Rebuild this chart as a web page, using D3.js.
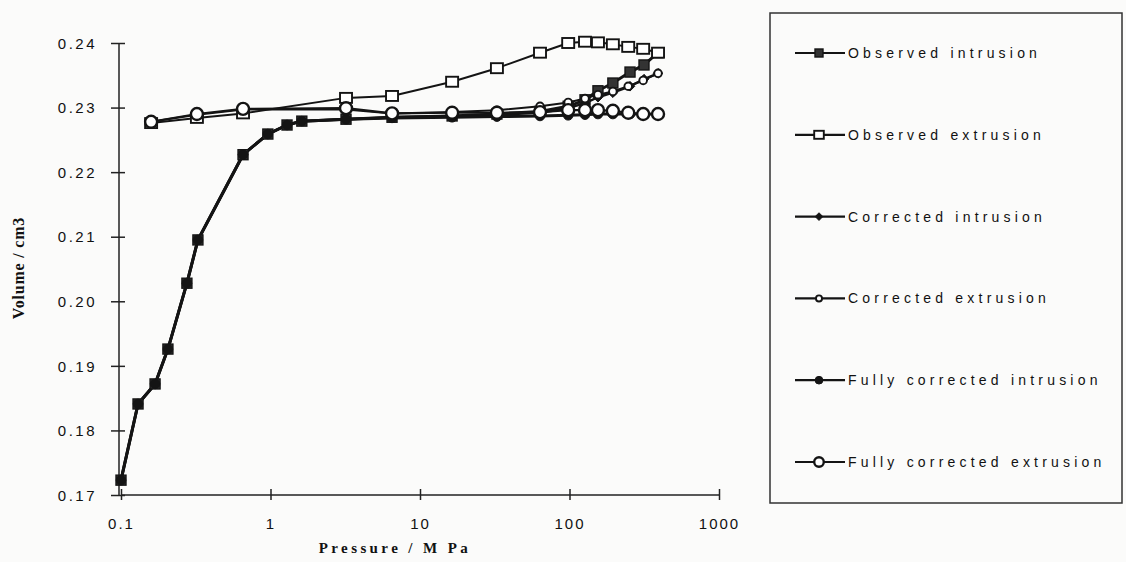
<!DOCTYPE html>
<html><head><meta charset="utf-8">
<script src="https://cdn.jsdelivr.net/npm/d3@7"></script>
<style>
html,body{margin:0;padding:0;background:#fbfbfa;}
svg{display:block;}
</style></head>
<body>
<svg id="chart" width="1126" height="562"></svg>
<script>
// ---- data ----
const intrusionPressure = [0.1, 0.13, 0.169, 0.206, 0.276, 0.327, 0.655, 0.96, 1.29, 1.62, 3.2, 6.5, 16.4, 32.7, 63.5, 98, 127, 155, 195, 254, 315, 391];
const observedIntrusion = [0.1723, 0.1841, 0.1872, 0.1926, 0.2028, 0.2095, 0.2227, 0.2259, 0.2273, 0.2279, 0.2282, 0.2285, 0.2287, 0.2290, 0.2294, 0.2302, 0.2312, 0.2326, 0.2338, 0.2355, 0.2366, 0.2385];
const correctedIntrusion = [0.1723, 0.1841, 0.1872, 0.1926, 0.2028, 0.2095, 0.2227, 0.2259, 0.2273, 0.2279, 0.2282, 0.2285, 0.2287, 0.2289, 0.2292, 0.2299, 0.2307, 0.2316, 0.2323, 0.2333, 0.2344, 0.2353];
const fullyCorrectedIntrusion = [0.1723, 0.1841, 0.1872, 0.1926, 0.2028, 0.2095, 0.2227, 0.2259, 0.2273, 0.2279, 0.2282, 0.2284, 0.2285, 0.2286, 0.2287, 0.2288, 0.2289, 0.2290, 0.2290, 0.2290, 0.2290, 0.2290];

const extrusionPressure = [391, 311, 247, 195, 155, 127, 98, 63.5, 32.7, 16.4, 6.5, 3.2, 0.655, 0.322, 0.159];
const observedExtrusion = [0.2385, 0.2391, 0.2394, 0.2398, 0.2401, 0.2402, 0.2400, 0.2385, 0.2361, 0.2340, 0.2318, 0.2315, 0.2291, 0.2284, 0.2276];
const correctedExtrusion = [0.2353, 0.2342, 0.2333, 0.2325, 0.2320, 0.2314, 0.2308, 0.2302, 0.2296, 0.2293, 0.2291, 0.2297, 0.2297, 0.2289, 0.2278];
const fullyCorrectedExtrusion = [0.2290, 0.2290, 0.2292, 0.2295, 0.2296, 0.2296, 0.2296, 0.2293, 0.2292, 0.2292, 0.2291, 0.2299, 0.2298, 0.2290, 0.2278];

const seriesNames = ["Observed intrusion", "Observed extrusion", "Corrected intrusion", "Corrected extrusion", "Fully corrected intrusion", "Fully corrected extrusion"];
const xTickValues = [0.1, 1, 10, 100, 1000];
const xTickLabels = ["0.1", "1", "10", "100", "1000"];
const yTickValues = [0.17, 0.18, 0.19, 0.20, 0.21, 0.22, 0.23, 0.24];
const yTickLabels = ["0.17", "0.18", "0.19", "0.20", "0.21", "0.22", "0.23", "0.24"];
const xTitle = "Pressure / M Pa";
const yTitle = "Volume / cm3";

// ---- build ----
const svg = d3.select("#chart");
const x = d3.scaleLog().domain([0.1, 1000]).range([121, 719]);
const y = d3.scaleLinear().domain([0.17, 0.24]).range([495, 43]);
const ink = "#141414";

const series = [
  {name: seriesNames[0], p: intrusionPressure, v: observedIntrusion, marker: "fsquare", lw: 3},
  {name: seriesNames[1], p: extrusionPressure, v: observedExtrusion, marker: "osquare", lw: 2},
  {name: seriesNames[2], p: intrusionPressure, v: correctedIntrusion, marker: "diamond", lw: 2.4},
  {name: seriesNames[3], p: extrusionPressure, v: correctedExtrusion, marker: "ocircleS", lw: 2},
  {name: seriesNames[4], p: intrusionPressure, v: fullyCorrectedIntrusion, marker: "fcircle", lw: 3},
  {name: seriesNames[5], p: extrusionPressure, v: fullyCorrectedExtrusion, marker: "ocircleL", lw: 2.2}
];

function drawMarker(g, type, cx, cy, scale) {
  scale = scale || 1;
  if (type === "fsquare") {
    const s = 10 * scale;
    g.append("rect").attr("x", cx - s/2).attr("y", cy - s/2).attr("width", s).attr("height", s)
      .attr("fill", "#333").attr("stroke", ink).attr("stroke-width", 1.4);
  } else if (type === "osquare") {
    const w = 12 * scale, h = 10 * scale;
    g.append("rect").attr("x", cx - w/2).attr("y", cy - h/2).attr("width", w).attr("height", h)
      .attr("fill", "#fff").attr("stroke", ink).attr("stroke-width", 1.9);
  } else if (type === "diamond") {
    const s = 4.8 * scale;
    g.append("path").attr("d", `M${cx},${cy-s}L${cx+s},${cy}L${cx},${cy+s}L${cx-s},${cy}Z`)
      .attr("fill", ink).attr("stroke", ink).attr("stroke-width", 1);
  } else if (type === "ocircleS") {
    g.append("circle").attr("cx", cx).attr("cy", cy).attr("r", 3.8 * scale)
      .attr("fill", "#fff").attr("stroke", ink).attr("stroke-width", 1.9);
  } else if (type === "fcircle") {
    g.append("circle").attr("cx", cx).attr("cy", cy).attr("r", 4.8 * scale)
      .attr("fill", ink).attr("stroke", ink).attr("stroke-width", 1);
  } else if (type === "ocircleL") {
    g.append("circle").attr("cx", cx).attr("cy", cy).attr("r", 6 * scale)
      .attr("fill", "#fff").attr("stroke", ink).attr("stroke-width", 2.4);
  }
}

// axes
const xAxis = d3.axisBottom(x).tickValues(xTickValues).tickFormat((d, i) => xTickLabels[i]).tickSize(0);
const yAxis = d3.axisLeft(y).tickValues(yTickValues).tickFormat((d, i) => yTickLabels[i]).tickSize(0);

const gx = svg.append("g").attr("transform", "translate(0,495)").call(xAxis);
gx.select(".domain").attr("stroke", "#222").attr("stroke-width", 1.5).attr("fill", "none").attr("d", "M121,0H719");
gx.selectAll(".tick line").remove();
gx.selectAll(".tick").append("line").attr("y1", -6).attr("y2", 5).attr("stroke", "#222").attr("stroke-width", 1.5);
gx.selectAll(".tick text").attr("y", 23).attr("font-family", "Liberation Sans, Arial, sans-serif")
  .attr("font-size", 15).attr("letter-spacing", "2px").attr("fill", "#111");

const gy = svg.append("g").attr("transform", "translate(119,0)").call(yAxis);
gy.select(".domain").attr("stroke", "#222").attr("stroke-width", 1.5).attr("fill", "none").attr("d", "M0,43V495");
gy.selectAll(".tick line").remove();
gy.selectAll(".tick").append("line").attr("x1", -8).attr("x2", 6).attr("stroke", "#222").attr("stroke-width", 1.5);
gy.selectAll(".tick text").attr("x", -22).attr("dy", "0.35em").attr("font-family", "Liberation Sans, Arial, sans-serif")
  .attr("font-size", 15).attr("letter-spacing", "2.5px").attr("fill", "#111");

// axis titles
svg.append("text").attr("x", 395).attr("y", 553).attr("text-anchor", "middle")
  .attr("font-family", "Liberation Serif, Times New Roman, serif").attr("font-weight", "bold")
  .attr("font-size", 15).attr("letter-spacing", "3.4px").attr("fill", "#111").text(xTitle);
svg.append("text").attr("transform", "translate(24,268) rotate(-90)").attr("text-anchor", "middle")
  .attr("font-family", "Liberation Serif, Times New Roman, serif").attr("font-weight", "bold")
  .attr("font-size", 16).attr("letter-spacing", "0.8px").attr("fill", "#111").text(yTitle);

// lines and markers
const line = d3.line().x(d => x(d[0])).y(d => y(d[1]));
series.forEach(s => {
  const pts = s.p.map((p, i) => [p, s.v[i]]);
  svg.append("path").datum(pts).attr("d", line).attr("fill", "none")
    .attr("stroke", ink).attr("stroke-width", s.lw).attr("stroke-linejoin", "round");
});
series.forEach(s => {
  const g = svg.append("g");
  s.p.forEach((p, i) => drawMarker(g, s.marker, x(p), y(s.v[i])));
});

// legend
const lg = svg.append("g");
lg.append("path").attr("d", "M770,13V503H1122V13Z").attr("fill", "none").attr("stroke", "#333").attr("stroke-width", 1.5);
const legendY = d3.scalePoint().domain(seriesNames).range([53, 462]);
series.forEach(s => {
  const yy = legendY(s.name);
  lg.append("line").attr("x1", 795).attr("x2", 845).attr("y1", yy).attr("y2", yy)
    .attr("stroke", ink).attr("stroke-width", 2.2);
  drawMarker(lg, s.marker, 819, yy, 0.8);
  lg.append("text").attr("x", 848).attr("y", yy).attr("dy", "0.36em")
    .attr("font-family", "Liberation Sans, Arial, sans-serif").attr("font-size", 14)
    .attr("letter-spacing", "4.2px").attr("fill", "#111").text(s.name);
});
</script>
</body></html>
